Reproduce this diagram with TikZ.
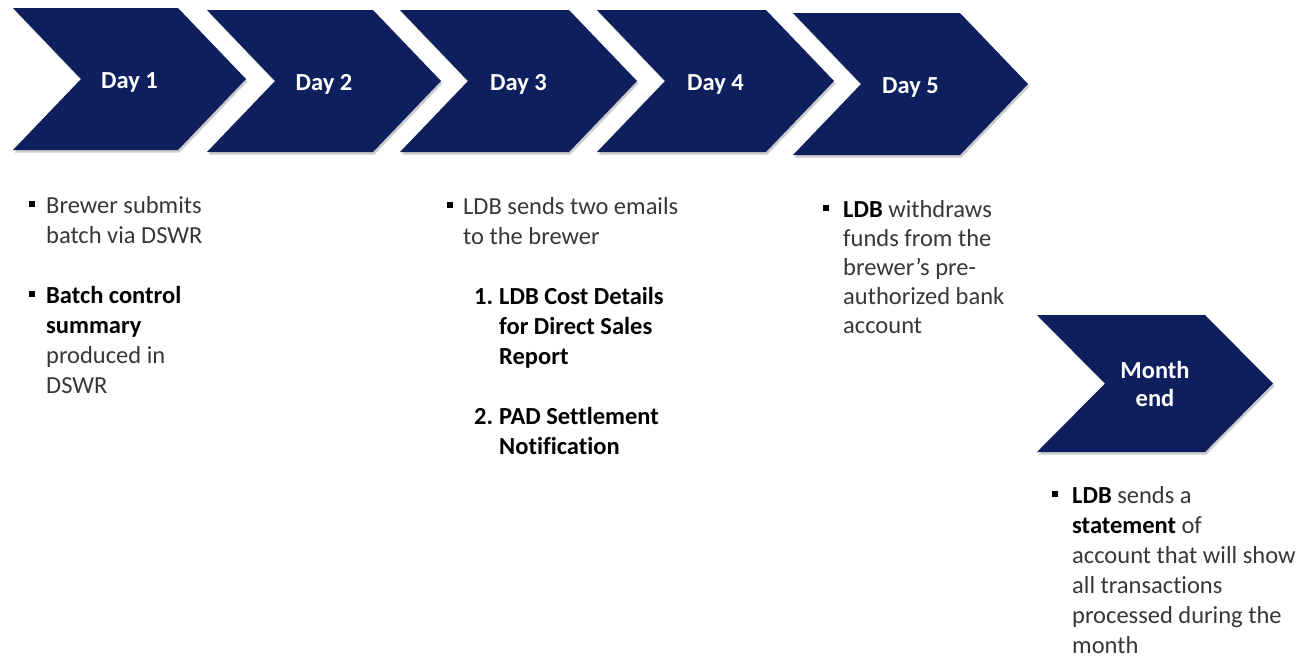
\documentclass[tikz,border=0pt]{standalone}
\usepackage{fontspec}
\setmainfont{Carlito}[Ligatures=NoCommon]
\definecolor{navy}{RGB}{14,31,94}
\definecolor{txtgray}{RGB}{55,55,55}
\newcommand\bt[1]{{\bfseries\color{black}#1}}
\newcommand\drawchev[4]{%
  \fill[shad] ({#1+1.5},{#3+2.5}) -- ({#2-68+1.5},{#3+2.5}) -- ({#2+1.5},{(#3+#4)/2+2.5}) -- ({#2-68+1.5},{#4+2.5}) -- ({#1+1.5},{#4+2.5}) -- ({#1+68+1.5},{(#3+#4)/2+2.5}) -- cycle;
  \fill[chev] (#1,#3) -- ({#2-68},#3) -- (#2,{(#3+#4)/2}) -- ({#2-68},#4) -- (#1,#4) -- ({#1+68},{(#3+#4)/2}) -- cycle;}
\begin{document}
\begin{tikzpicture}[x=1pt,y=-1pt,
  chev/.style={fill=navy},
  shad/.style={fill=black,opacity=0.2},
  lab/.style={text=white,font=\fontsize{24.5}{30}\selectfont\bfseries,inner sep=0pt,anchor=base},
  txt/.style={text=txtgray,font=\fontsize{24.5}{30}\selectfont,inner sep=0pt,anchor=base west},
  btxt/.style={txt,text=black,font=\fontsize{24.5}{30}\selectfont\bfseries},
  bul/.style={fill=black,minimum size=6pt,inner sep=0pt}]
\useasboundingbox[fill=white] (0,0) rectangle (1303,657);
% chevrons
\drawchev{13}{246}{8}{150}
\drawchev{207}{441}{10}{152}
\drawchev{400}{637}{10}{152}
\drawchev{597}{834}{10}{152}
\drawchev{793}{1028}{13}{155}
\drawchev{1037}{1273}{315}{452}
% labels
\node[lab] (day1) at (129.5,88) {Day 1};
\node[lab] (day2) at (324,90) {Day 2};
\node[lab] (day3) at (518.5,90) {Day 3};
\node[lab] (day4) at (715.5,90) {Day 4};
\node[lab] (day5) at (910.5,93) {Day 5};
\node[lab] (me1) at (1155,378) {Month};
\node[lab] (me2) at (1155,406) {end};
% Day 1 text
\node[bul] (d1p1) at (32,204) {};
\node[txt] (d1a) at (46,213) {Brewer submits};
\node[txt] (d1b) at (46,243) {batch via DSWR};
\node[bul] (d1p2) at (32,294) {};
\node[btxt] (d1c) at (46,303) {Batch control};
\node[btxt] (d1d) at (46,333) {summary};
\node[txt] (d1e) at (46,363) {produced in};
\node[txt] (d1f) at (46,393) {DSWR};
% Day 3 text
\node[bul] (d3p1) at (450,205) {};
\node[txt] (d3a) at (463,214) {LDB sends two emails};
\node[txt] (d3b) at (463,244) {to the brewer};
\node[btxt] (d3n1) at (474,304) {1.};
\node[btxt] (d3c) at (499,304) {LDB Cost Details};
\node[btxt] (d3d) at (499,334) {for Direct Sales};
\node[btxt] (d3e) at (499,364) {Report};
\node[btxt] (d3n2) at (474,424) {2.};
\node[btxt] (d3f) at (499,424) {PAD Settlement};
\node[btxt] (d3g) at (499,454) {Notification};
% Day 5 text
\node[bul] (d5p1) at (826,208) {};
\node[txt] (d5a) at (843,217) {\bt{LDB} withdraws};
\node[txt] (d5b) at (843,246) {funds from the};
\node[txt] (d5c) at (843,275) {brewer’s pre-};
\node[txt] (d5d) at (843,304) {authorized bank};
\node[txt] (d5e) at (843,333) {account};
% Month end text
\node[bul] (mep1) at (1055,494) {};
\node[txt] (mea) at (1072,503) {\bt{LDB} sends a};
\node[txt] (meb) at (1072,533) {\bt{statement} of};
\node[txt] (mec) at (1072,563) {account that will show};
\node[txt] (med) at (1072,593) {all transactions};
\node[txt] (mee) at (1072,623) {processed during the};
\node[txt] (mef) at (1072,653) {month};
\end{tikzpicture}
\end{document}
